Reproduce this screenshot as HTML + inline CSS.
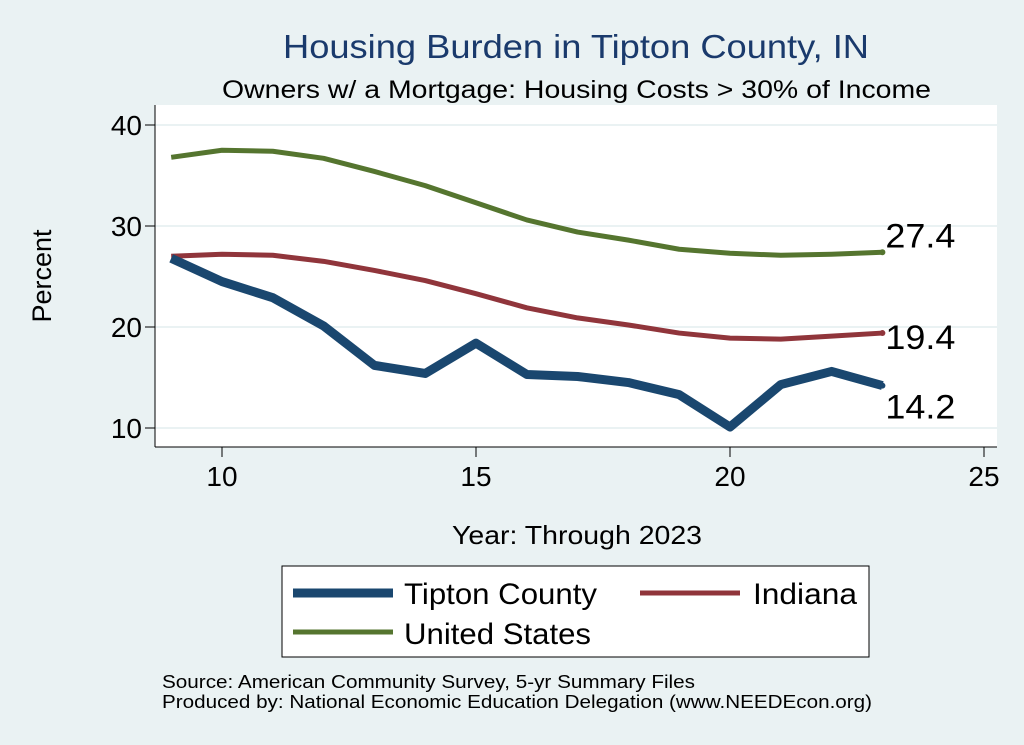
<!DOCTYPE html>
<html><head><meta charset="utf-8"><style>
body{margin:0;background:#fff;}
svg{display:block;font-family:"Liberation Sans",Arial,sans-serif;}
</style></head><body>
<svg width="1024" height="745" viewBox="0 0 1024 745">
<rect x="0" y="0" width="1024" height="745" fill="#eaf2f3"/>
<rect x="155" y="105" width="842" height="342" fill="#ffffff"/>
<text x="283" y="58" font-size="33" fill="#1a3a6c" textLength="586" lengthAdjust="spacingAndGlyphs">Housing Burden in Tipton County, IN</text>
<text x="222" y="98" font-size="25" fill="#000" textLength="709" lengthAdjust="spacingAndGlyphs">Owners w/ a Mortgage: Housing Costs &gt; 30% of Income</text>
<g id="grid"></g>
<g id="axes"></g>
<g id="series"></g>
<text x="51" y="276" font-size="27" text-anchor="middle" transform="rotate(-90 51 276)">Percent</text>
<text x="452" y="544" font-size="26" textLength="250" lengthAdjust="spacingAndGlyphs">Year: Through 2023</text>
<g>
<rect x="282" y="566" width="587" height="91" fill="#fff" stroke="#000" stroke-width="1"/>
<line x1="293" y1="593" x2="393" y2="593" stroke="#1a476f" stroke-width="9"/>
<text x="404" y="604" font-size="30" textLength="193" lengthAdjust="spacingAndGlyphs">Tipton County</text>
<line x1="640" y1="593" x2="740" y2="593" stroke="#90353b" stroke-width="5"/>
<text x="753" y="604" font-size="30" textLength="104" lengthAdjust="spacingAndGlyphs">Indiana</text>
<line x1="293" y1="632" x2="393" y2="632" stroke="#55752f" stroke-width="5"/>
<text x="404" y="644" font-size="30" textLength="187" lengthAdjust="spacingAndGlyphs">United States</text>
</g>
<text x="162" y="688" font-size="18" textLength="533" lengthAdjust="spacingAndGlyphs">Source: American Community Survey, 5-yr Summary Files</text>
<text x="162" y="708" font-size="18" textLength="710" lengthAdjust="spacingAndGlyphs">Produced by: National Economic Education Delegation (www.NEEDEcon.org)</text>
</svg>
<script>
const years=[9,10,11,12,13,14,15,16,17,18,19,20,21,22,23];
const tipton=[26.8,24.5,22.9,20.1,16.2,15.4,18.4,15.3,15.1,14.5,13.3,10.1,14.3,15.6,14.2];
const indiana=[27.0,27.2,27.1,26.5,25.6,24.6,23.3,21.9,20.9,20.2,19.4,18.9,18.8,19.1,19.4];
const us=[36.8,37.5,37.4,36.7,35.4,34.0,32.3,30.6,29.4,28.6,27.7,27.3,27.1,27.2,27.4];
const xTicks=[10,15,20,25];
const yTicks=[10,20,30,40];
const NS='http://www.w3.org/2000/svg';
function sx(v){return 222+(v-10)*50.8;}
function sy(v){return 428-(v-10)*10.1;}
function mk(t,a,p){const e=document.createElementNS(NS,t);for(const k in a)e.setAttribute(k,a[k]);document.getElementById(p).appendChild(e);return e;}
yTicks.forEach(t=>{
 const g=mk('line',{x1:155,x2:997,y1:sy(t),y2:sy(t),stroke:'#eaf2f3','stroke-width':2},'grid');
 
 
 const tk=mk('line',{x1:145,x2:155,y1:sy(t),y2:sy(t),stroke:'#000'},'axes');
 
 
 const l=mk('text',{x:142,y:sy(t)+10,'font-size':28,'text-anchor':'end'},'axes');l.textContent=t;
 
 
});
xTicks.forEach(t=>{
 const tk=mk('line',{x1:sx(t),x2:sx(t),y1:447,y2:457,stroke:'#000'},'axes');
 
 
 const l=mk('text',{x:sx(t),y:486,'font-size':28,'text-anchor':'middle'},'axes');l.textContent=t;
 
 
});
const ya=mk('line',{x1:155,x2:155,y1:105,y2:447,stroke:'#000'},'axes');


const xa=mk('line',{x1:155,x2:997,y1:447,y2:447,stroke:'#000'},'axes');


function series(vals,col,w,name,lblDy){
 const d=vals.map((v,i)=>(i?'L':'M')+sx(years[i])+','+sy(v)).join(' ');
 const p=mk('path',{d:d,fill:'none',stroke:col,'stroke-width':w,'stroke-linejoin':'round'},'series');
 
 
 const n=vals.length-1;
 const c=mk('circle',{cx:sx(years[n]),cy:sy(vals[n]),r:3,fill:col},'series');
 
 
 const t=mk('text',{x:sx(years[n])+3,y:sy(vals[n])+lblDy,'font-size':34,textLength:70,lengthAdjust:'spacingAndGlyphs'},'series');t.textContent=vals[n].toFixed(1);
 
 
}
series(us,'#55752f',5,'us',-5);
series(indiana,'#90353b',5,'indiana',16);
series(tipton,'#1a476f',9,'tipton',33);
</script>
</body></html>
